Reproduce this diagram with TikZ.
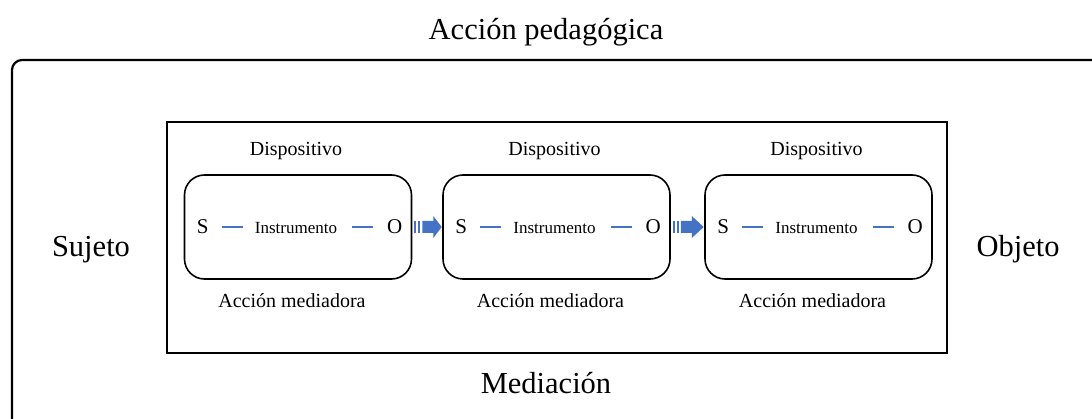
\documentclass[tikz,border=0pt]{standalone}
\usepackage{fontspec}
\setmainfont{Liberation Serif}
\definecolor{arrowblue}{HTML}{4472C4}
\begin{document}
\begin{tikzpicture}[x=1pt,y=-1pt,
  bigtext/.style={font=\fontsize{30.5}{36}\selectfont, inner sep=0pt, anchor=base},
  labeltext/.style={font=\fontsize{20}{24}\selectfont, inner sep=0pt, anchor=base},
  sotext/.style={font=\fontsize{21}{25}\selectfont, inner sep=0pt, anchor=base},
  instext/.style={font=\fontsize{17}{20}\selectfont, inner sep=0pt, anchor=base},
  mbox/.style={draw, line width=1.6pt, rounded corners=20pt, minimum width=227pt, minimum height=104pt, inner sep=0pt},
  blueline/.style={draw=arrowblue, line width=2pt},
]
\useasboundingbox (0,0) rectangle (1092,419);
\draw[line width=2.2pt, rounded corners=10pt] (12,430) -- (12,60) -- (1110,60);
\node[draw, line width=1.6pt, minimum width=780pt, minimum height=231pt, inner sep=0pt] (med) at (557,237.5) {};
\node[bigtext] (title) at (546,40) {Acción pedagógica};
\node[bigtext] (mediacion) at (546,393) {Mediación};
\node[bigtext] (sujeto) at (91,257) {Sujeto};
\node[bigtext] (objeto) at (1018,257) {Objeto};
\foreach \i/\cx in {1/298,2/556.5,3/818.5}{
  \node[mbox] (b\i) at (\cx,227) {};
  \node[labeltext] (d\i) at (\cx-2,156) {Dispositivo};
  \node[labeltext] (a\i) at (\cx-6,308) {Acción mediadora};
  \node[sotext] (s\i) at ([shift={(19,7)}]b\i.west) {S};
  \node[sotext] (o\i) at ([shift={(-17.5,7)}]b\i.east) {O};
  \node[instext] (in\i) at ([shift={(-2,7)}]b\i.center) {Instrumento};
  \coordinate (sl\i) at ([shift={(13,0)}]s\i.base east);
  \coordinate (sr\i) at ([shift={(-12,0)}]in\i.base west);
  \coordinate (ol\i) at ([shift={(15,0)}]in\i.base east);
  \coordinate (or\i) at ([shift={(-14,0)}]o\i.base west);
  \draw[blueline] ([yshift=6.5]sl\i) -- ([yshift=6.5]sr\i);
  \draw[blueline] ([yshift=6.5]ol\i) -- ([yshift=6.5]or\i);
}
\foreach \a/\b in {b1/b2,b2/b3}{
  \fill[arrowblue] ([shift={(2,-6)}]\a.east) rectangle ++(2,12);
  \fill[arrowblue] ([shift={(6,-6)}]\a.east) rectangle ++(2,12);
  \fill[arrowblue] ([shift={(10,-6)}]\a.east) -- ++(11,0) -- ++(0,-5) -- ([xshift=-0.5]\b.west) -- ([shift={(21,11)}]\a.east) -- ++(0,-5) -- ++(-11,0) -- cycle;
}
\end{tikzpicture}
\end{document}
